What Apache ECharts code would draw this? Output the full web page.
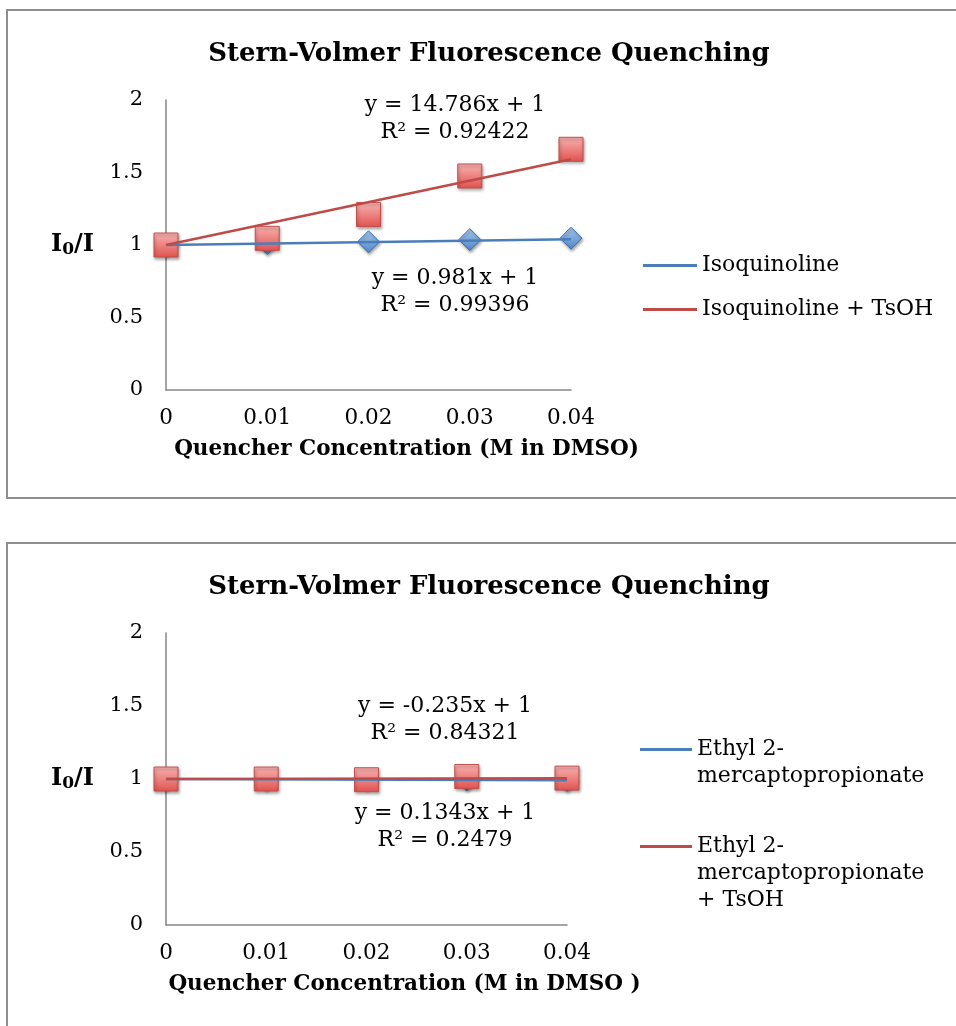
<!DOCTYPE html>
<html>
<head>
<meta charset="utf-8">
<script src="https://cdn.jsdelivr.net/npm/echarts@6/dist/echarts.min.js"></script>
<style>
html,body{margin:0;padding:0;background:#fff;}
#c{width:956px;height:1026px;}
</style>
</head>
<body>
<div id="c"></div>
<script>
// ---- data ----
var xValues = [0, 0.01, 0.02, 0.03, 0.04];
var isoquinoline = [1.0, 1.01, 1.022, 1.037, 1.047];
var isoquinolineTsOH = [1.0, 1.046, 1.21, 1.476, 1.66];
var isoTrendEnds = [1.0, 1.039];
var isoTsOHTrendEnds = [1.0, 1.591];
var ethyl = [1.0, 0.998, 1.0, 0.995, 0.991];
var ethylTsOH = [1.0, 1.0, 0.995, 1.017, 1.006];
var ethylTrendEnds = [1.0, 0.991];
var ethylTsOHTrendEnds = [1.0, 1.005];
var trendX = [0, 0.04];
var xTickLabels = ['0', '0.01', '0.02', '0.03', '0.04'];
var yTickLabels = ['0', '0.5', '1', '1.5', '2'];
var title = 'Stern-Volmer Fluorescence Quenching';
var xName1 = 'Quencher Concentration (M in DMSO)';
var xName2 = 'Quencher Concentration (M in DMSO )';
var eq = ['y = 14.786x + 1\nR\u00B2 = 0.92422', 'y = 0.981x + 1\nR\u00B2 = 0.99396',
          'y = -0.235x + 1\nR\u00B2 = 0.84321', 'y = 0.1343x + 1\nR\u00B2 = 0.2479'];
var names = ['Isoquinoline', 'Isoquinoline + TsOH', 'Ethyl 2-\nmercaptopropionate', 'Ethyl 2-\nmercaptopropionate\n+ TsOH'];

function pts(xs, ys){ return xs.map(function(x,i){ return [x, ys[i]]; }); }

var SERIF = '"DejaVu Serif", serif';
var BLUE = '#4a7ebb', RED = '#be4b48', AXIS = '#868686';

var blueFill = new echarts.graphic.LinearGradient(0,0,0,1,[{offset:0,color:'#a9c8ec'},{offset:1,color:'#4f86c8'}]);
var redFill = new echarts.graphic.LinearGradient(0,0,0,1,[{offset:0,color:'#f9b4b2'},{offset:1,color:'#e0524f'}]);

function xAxisCfg(idx, name){
  return {
    type:'value', gridIndex: idx, min:0, max:0.04, interval:0.01,
    name: name, nameLocation:'middle', nameGap: 48,
    nameTextStyle:{fontFamily:SERIF, fontWeight:'bold', fontSize:21.5, color:'#000', padding:[0,0,0,76]},
    axisLine:{lineStyle:{color:AXIS, width:1.5}}, axisTick:{show:false}, splitLine:{show:false},
    axisLabel:{fontFamily:SERIF, fontSize:21.5, color:'#000', margin:17,
      formatter:function(v){ return xTickLabels[Math.round(v/0.01)]; }}
  };
}
function yAxisCfg(idx){
  return {
    type:'value', gridIndex: idx, min:0, max:2, interval:0.5,
    name:'{a|I}{s|0}{a|/I}', nameLocation:'middle', nameRotate:0, nameGap:72,
    nameTextStyle:{rich:{
      a:{fontFamily:SERIF, fontWeight:'bold', fontSize:24, color:'#000'},
      s:{fontFamily:SERIF, fontWeight:'bold', fontSize:17, color:'#000', verticalAlign:'bottom', padding:[9,0,0,0]}
    }},
    axisLine:{show:true, lineStyle:{color:AXIS, width:1.5}}, axisTick:{show:false}, splitLine:{show:false},
    axisLabel:{fontFamily:SERIF, fontSize:21, color:'#000', margin:23,
      formatter:function(v){ return yTickLabels[Math.round(v/0.5)]; }}
  };
}
function scatter(name, idx, data, sym, size, fill, border){
  return {type:'scatter', name:name, xAxisIndex:idx, yAxisIndex:idx, data:data, symbol:sym, symbolSize:size,
    itemStyle:{color:fill, borderColor:border, borderWidth:1, shadowColor:'rgba(0,0,0,0.35)', shadowBlur:3, shadowOffsetX:1, shadowOffsetY:2, opacity:1},
    emphasis:{disabled:true}, silent:true, z:2};
}
function trend(name, idx, data, color){
  return {type:'line', name:name, xAxisIndex:idx, yAxisIndex:idx, data:data, showSymbol:false, symbol:'none',
    lineStyle:{color:color, width:2.5}, itemStyle:{color:color}, silent:true, z:3};
}
// leading blank lines keep the legend line level with the first line of text
function legendCfg(name, left, top, lines, iconW){
  var pre = new Array(lines).join('\n');
  return {data:[{name:name}], left:left, top:top, orient:'vertical', icon:'rect', itemWidth:iconW, itemHeight:3, itemGap:0,
    selectedMode:false, padding:0,
    formatter:function(n){ return pre + n; },
    textStyle:{fontFamily:SERIF, fontSize:22, color:'#000', lineHeight:27}};
}

var option = {
  animation:false,
  backgroundColor:'#fff',
  title:[
    {text:title, left:484, top:36, textAlign:'center', textStyle:{fontFamily:SERIF, fontWeight:'bold', fontSize:26, color:'#000'}},
    {text:title, left:484, top:569, textAlign:'center', textStyle:{fontFamily:SERIF, fontWeight:'bold', fontSize:26, color:'#000'}}
  ],
  graphic:[
    {type:'rect', shape:{x:7, y:10, width:970, height:488}, style:{fill:'#fff', stroke:'#8e8e8e', lineWidth:2}, z:-10, silent:true},
    {type:'rect', shape:{x:7, y:543, width:970, height:520}, style:{fill:'#fff', stroke:'#8e8e8e', lineWidth:2}, z:-10, silent:true},
    {type:'group', children:[
      {type:'text', x:455, y:92, style:{text:eq[0], fontFamily:SERIF, fontSize:22, fill:'#000', align:'center', lineHeight:27}},
      {type:'text', x:455, y:265, style:{text:eq[1], fontFamily:SERIF, fontSize:22, fill:'#000', align:'center', lineHeight:27}},
      {type:'text', x:445, y:693, style:{text:eq[2], fontFamily:SERIF, fontSize:22, fill:'#000', align:'center', lineHeight:27}},
      {type:'text', x:445, y:800, style:{text:eq[3], fontFamily:SERIF, fontSize:22, fill:'#000', align:'center', lineHeight:27}}
    ]}
  ],
  legend:[
    legendCfg(names[0], 643, 252, 1, 54),
    legendCfg(names[1], 643, 296, 1, 54),
    legendCfg(names[2], 640, 709, 2, 52),
    legendCfg(names[3], 640, 779, 3, 52)
  ],
  grid:[
    {left:166, top:100, width:405, height:290},
    {left:166, top:633, width:401, height:292}
  ],
  xAxis:[xAxisCfg(0, xName1), xAxisCfg(1, xName2)],
  yAxis:[yAxisCfg(0), yAxisCfg(1)],
  series:[
    scatter('iso-pts', 0, pts(xValues, isoquinoline), 'diamond', 22, blueFill, '#3d6fae'),
    trend(names[0], 0, pts(trendX, isoTrendEnds), BLUE),
    scatter('isoT-pts', 0, pts(xValues, isoquinolineTsOH), 'rect', 24, redFill, '#c0504d'),
    trend(names[1], 0, pts(trendX, isoTsOHTrendEnds), RED),
    scatter('eth-pts', 1, pts(xValues, ethyl), 'diamond', 22, blueFill, '#3d6fae'),
    trend(names[2], 1, pts(trendX, ethylTrendEnds), BLUE),
    scatter('ethT-pts', 1, pts(xValues, ethylTsOH), 'rect', 24, redFill, '#c0504d'),
    trend(names[3], 1, pts(trendX, ethylTsOHTrendEnds), RED)
  ]
};
var chart = echarts.init(document.getElementById('c'), null, {renderer:'canvas'});
chart.setOption(option);
</script>
</body>
</html>
